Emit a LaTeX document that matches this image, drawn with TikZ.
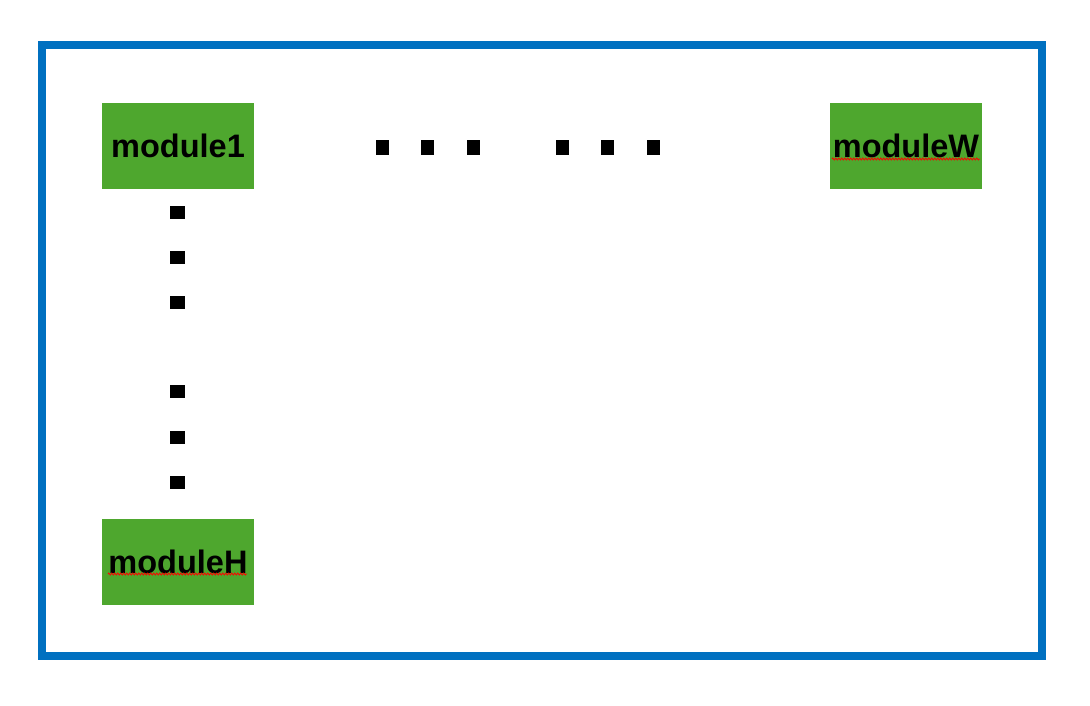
\documentclass[tikz,border=0pt]{standalone}
\usepackage{fontspec}
\setmainfont{Liberation Sans}
\usetikzlibrary{decorations.pathmorphing}
\definecolor{frameblue}{RGB}{0,112,192}
\definecolor{modgreen}{RGB}{78,167,46}
\begin{document}
\begin{tikzpicture}[x=1pt,y=-1pt,
  module/.style={fill=modgreen,draw=none,minimum width=152pt,minimum height=86pt,inner sep=0pt,
    font=\fontsize{32.5}{32.5}\selectfont\bfseries,text=black},
  hdot/.style={fill=black,draw=none,minimum width=13pt,minimum height=15pt,inner sep=0pt},
  vdot/.style={fill=black,draw=none,minimum width=15pt,minimum height=13pt,inner sep=0pt},
  squiggle/.style={draw=red,line width=0.8pt,decorate,decoration={zigzag,amplitude=1pt,segment length=3pt}}]
\useasboundingbox (0,0) rectangle (1090,705);
\fill[white] (0,0) rectangle (1090,705);
\node[draw=frameblue,line width=8pt,minimum width=1000pt,minimum height=611pt,inner sep=0pt] (frame) at (542,350.5) {};
\node[module] (m1) at (178,146) {module1};
\node[module] (mW) at (906,146) {moduleW};
\node[module] (mH) at (178,562) {moduleH};
\foreach \x [count=\i] in {382,427,473,562,607,653} \node[hdot] (h\i) at (\x,147) {};
\foreach \y [count=\i] in {212,257,302,391,437,482} \node[vdot] (v\i) at (177,\y) {};
\coordinate (wA) at (832,159);
\coordinate (wB) at (980,159);
\coordinate (hA) at (108,574);
\coordinate (hB) at (247,574);
\draw[squiggle] (wA) -- (wB);
\draw[squiggle] (hA) -- (hB);
\end{tikzpicture}
\end{document}
